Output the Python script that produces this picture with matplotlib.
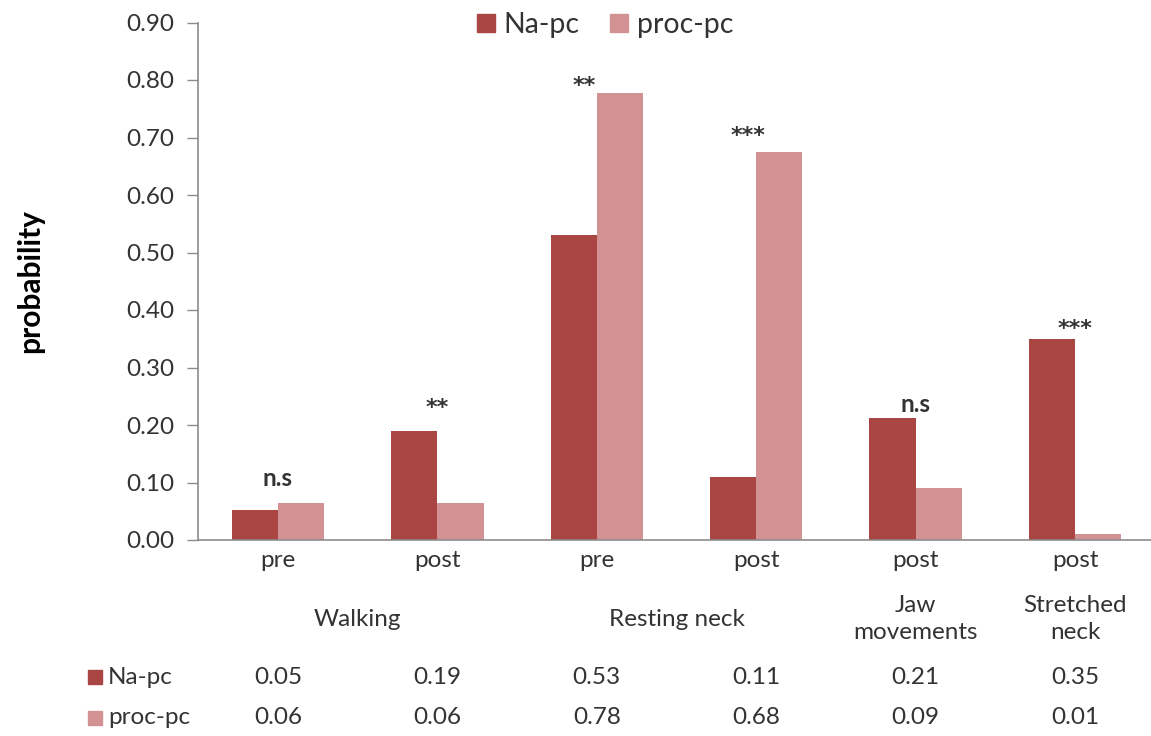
import matplotlib
matplotlib.use("Agg")
import matplotlib.pyplot as plt
import matplotlib.transforms as mtransforms
from matplotlib.patches import Patch
import numpy as np

categories = ["pre", "post", "pre", "post", "post", "post"]
groups = ["Walking", "Resting neck", "Jaw\nmovements", "Stretched\nneck"]
group_spans = [(0, 1), (2, 3), (4, 4), (5, 5)]
series_names = ["Na-pc", "proc-pc"]
na_pc = [0.052, 0.19, 0.53, 0.11, 0.212, 0.35]
proc_pc = [0.064, 0.064, 0.778, 0.675, 0.09, 0.01]
signif = ["n.s", "**", "**", "***", "n.s", "***"]
signif_y = [0.107, 0.24, 0.80, 0.712, 0.235, 0.377]
yticks = [0.0, 0.1, 0.2, 0.3, 0.4, 0.5, 0.6, 0.7, 0.8, 0.9]

c_na = "#A94543"
c_proc = "#D29293"
txt = "#333333"
axis_c = "#8C8C8C"
FS = 17.5

plt.rcParams['font.family'] = ['Lato', 'DejaVu Sans']

fig = plt.figure(figsize=(11.51, 7.36), dpi=100)
ax = fig.add_axes([198.3/1151, 1-540/736, 956.4/1151, (540-22.5)/736])

x = np.arange(len(categories))
w = 0.29
ax.bar(x - w/2, na_pc, w, color=c_na, label=series_names[0])
ax.bar(x + w/2, proc_pc, w, color=c_proc, label=series_names[1])

ax.set_xlim(-0.5, len(categories) - 0.5)
ax.set_ylim(0, 0.9)
ax.set_yticks(yticks)
ax.set_yticklabels([f"{v:.2f}" for v in yticks], fontsize=FS, color=txt)
ax.set_xticks(x)
ax.set_xticklabels(categories, fontsize=FS, color=txt)
ax.tick_params(axis='x', length=0, pad=7)
ax.tick_params(axis='y', length=8, width=1, color=axis_c, pad=9)
for s in ["top", "right"]:
    ax.spines[s].set_visible(False)
for s in ["left", "bottom"]:
    ax.spines[s].set_color(axis_c)
    ax.spines[s].set_linewidth(1.2)

offs = [0, 0, -0.08, -0.05, 0, 0]
for i, (lab, yy) in enumerate(zip(signif, signif_y)):
    if lab.startswith("*"):
        ax.text(i + offs[i], yy - 0.01, lab, ha='center', va='center', fontsize=16,
                fontweight='bold', color=txt, family=['DejaVu Sans'])
    else:
        ax.text(i + offs[i], yy, lab, ha='center', va='center', fontsize=FS,
                fontweight='bold', color=txt)

fig.text(30/1151, 1-281/736, "probability", rotation=90, ha='center', va='center',
         fontsize=21.5, fontweight='bold', color='black')

tr = mtransforms.blended_transform_factory(ax.transData, fig.transFigure)
for g, (a, b) in zip(groups, group_spans):
    ax.text((a + b)/2, 1-619/736, g, transform=tr, ha='center', va='center',
            fontsize=FS, color=txt, linespacing=1.4)

row_y = [1-677/736, 1-718/736]
for name, vals, col, yy in zip(series_names, [na_pc, proc_pc], [c_na, c_proc], row_y):
    fig.patches.append(matplotlib.patches.Rectangle((88/1151, yy - 7/736), 14/1151, 14/736,
                       transform=fig.transFigure, color=col))
    fig.text(108/1151, yy, name, ha='left', va='center', fontsize=FS, color=txt)
    for i, v in enumerate(vals):
        ax.text(i, yy, f"{v:.2f}", transform=tr, ha='center', va='center', fontsize=FS, color=txt)

handles = [Patch(color=c_na, label=series_names[0]), Patch(color=c_proc, label=series_names[1])]
fig.legend(handles=handles, loc='center', bbox_to_anchor=(605/1151, 1-25/736), ncol=2,
           frameon=False, fontsize=20.5, handlelength=0.62, handleheight=0.62,
           handletextpad=0.3, columnspacing=1.1, labelcolor=txt)

fig.savefig("out.png", dpi=100)
